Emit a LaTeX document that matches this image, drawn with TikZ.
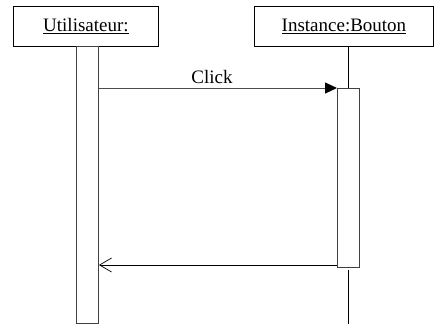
\documentclass[tikz,border=0pt]{standalone}
\usepackage{fontspec}
\setmainfont{Liberation Serif}
\usetikzlibrary{arrows.meta}

\begin{document}
\begin{tikzpicture}[x=1pt, y=-1pt, line width=0.9pt, font=\fontsize{19}{22}\selectfont]
\tikzstyle{object} = [rectangle, draw=black, minimum width=145pt, minimum height=40pt, anchor=north west, inner sep=0pt]
\tikzstyle{activation} = [rectangle, draw=black!75, fill=white, anchor=north west, inner sep=0pt]
\tikzstyle{lifeline} = [draw=black]
\tikzstyle{call} = [draw=black!70, -{Triangle[length=12pt, width=11pt, color=black]}]
\tikzstyle{reply} = [draw=black, -{Straight Barb[length=12pt, width=14pt, line width=0.7pt]}]

\useasboundingbox (0,0) rectangle (435,325);

\node (user) [object] at (13,6) {\underline{Utilisateur:}};
\node (button) [object, minimum width=179pt] at (254,6) {\underline{Instance:Bouton}};

\node (useract) [activation, minimum width=22pt, minimum height=277pt] at (76,46) {};
\node (buttonact) [activation, minimum width=22pt, minimum height=179pt] at (337,88) {};

\coordinate (buttonend) at (348,324);
\draw [lifeline] (button.south -| 348,0) -- (buttonact.north -| 348,0);
\draw [lifeline] (buttonact.south -| 348,0) ++(0,2) -- (buttonend);

\draw [call] (useract.east |- 0,88) -- node[above=1pt, xshift=-6pt] {Click} (buttonact.north west);
\draw [reply] (buttonact.west |- 0,265) -- (useract.east |- 0,265);

\end{tikzpicture}
\end{document}
